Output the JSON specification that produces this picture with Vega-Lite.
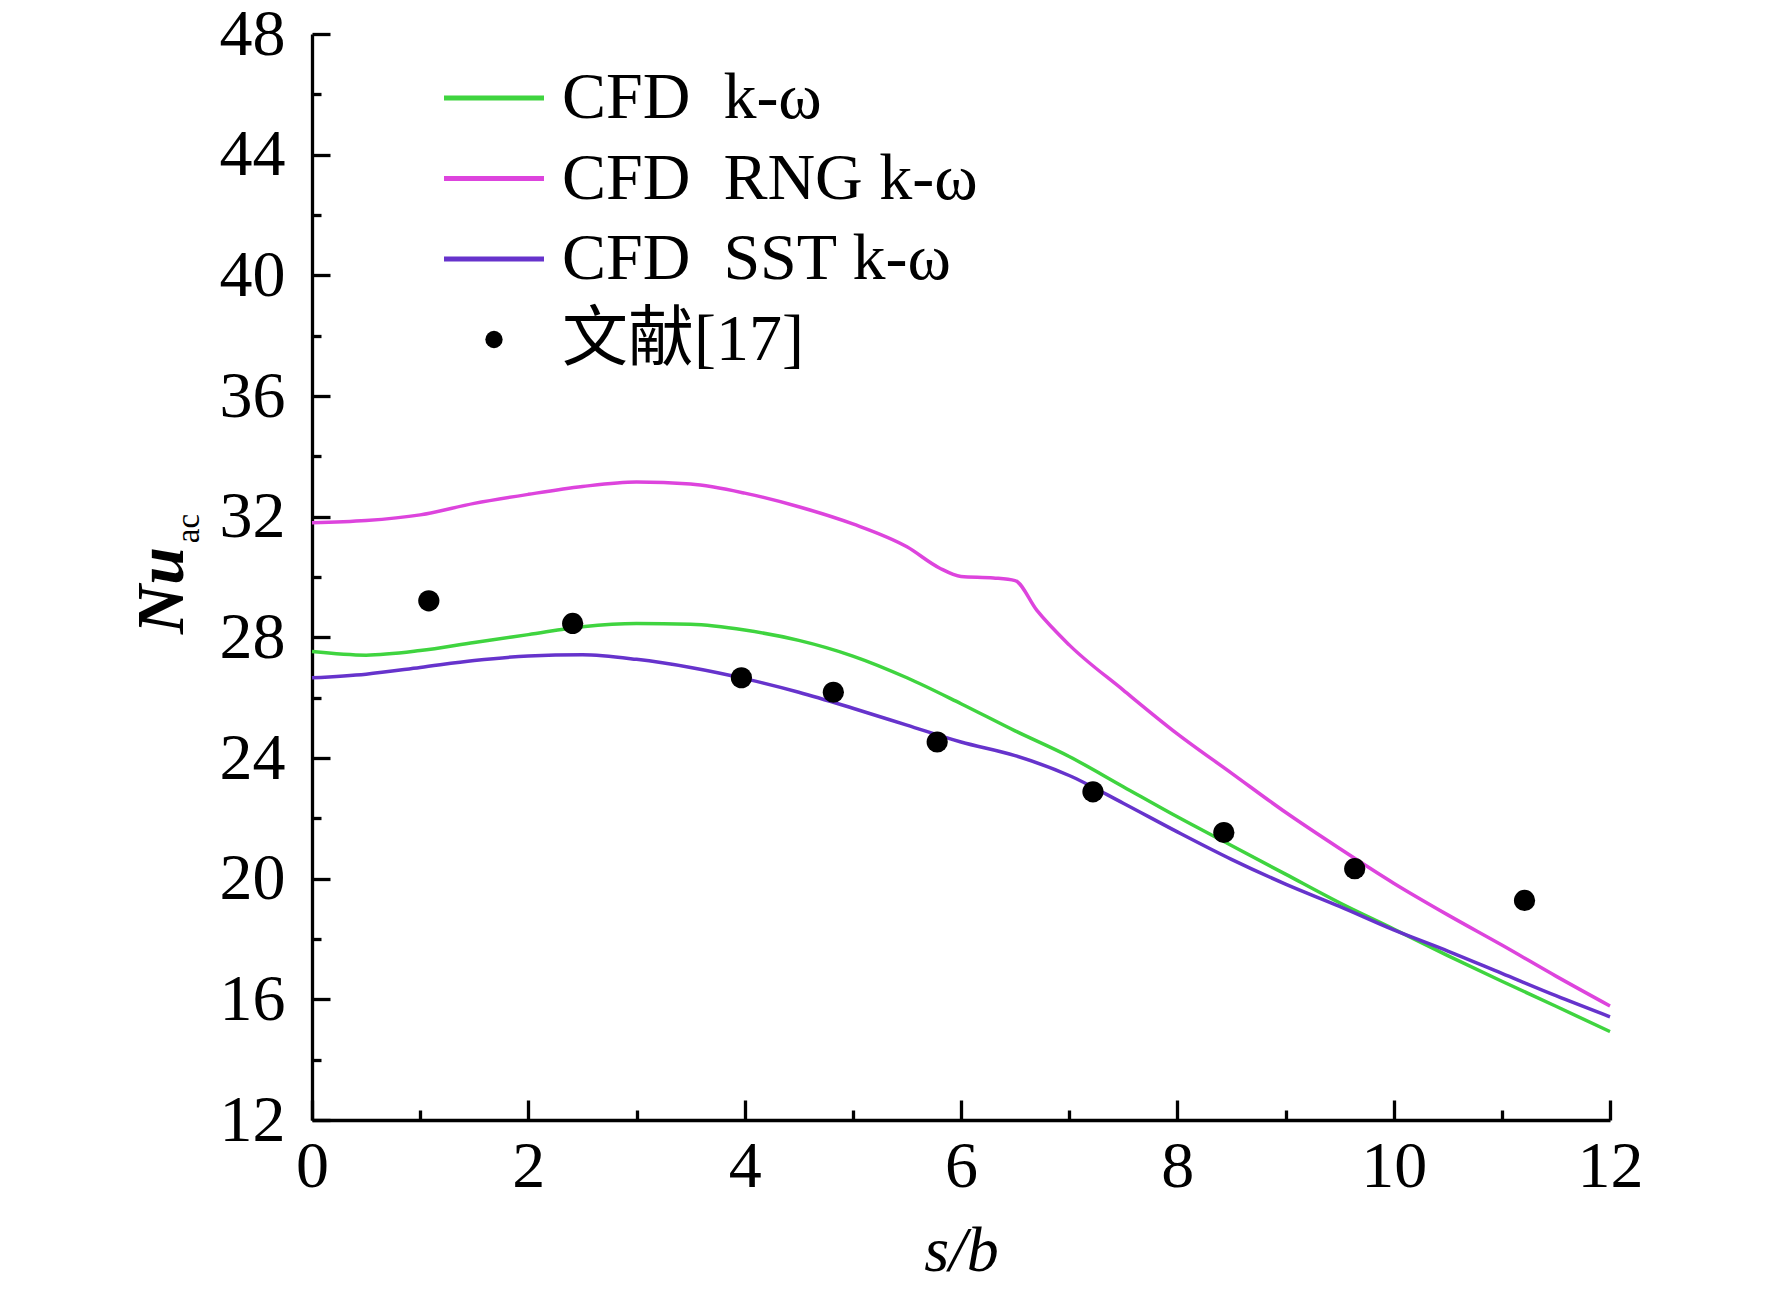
{
  "$schema": "https://vega.github.io/schema/vega-lite/v6.json",
  "description": "Nu_ac versus s/b: three CFD k-omega variants and the data of ref. [17].",
  "width": 1298,
  "height": 1086,
  "autosize": {"type": "none"},
  "padding": {"left": 312, "top": 34, "right": 162, "bottom": 171},
  "background": "white",
  "config": {
    "view": {"stroke": null},
    "font": "Liberation Serif",
    "axis": {
      "domainColor": "black",
      "domainWidth": 3.3,
      "tickColor": "black",
      "tickWidth": 3.3,
      "grid": false,
      "labelFont": "Liberation Serif",
      "labelFontSize": 66,
      "labelColor": "black",
      "titleFont": "Liberation Serif",
      "titleColor": "black"
    }
  },
  "datasets": {
    "cfd": [
      {"model": "CFD\u00a0\u00a0k-ω", "sb": 0, "nu": 27.53},
      {"model": "CFD\u00a0\u00a0k-ω", "sb": 0.5, "nu": 27.41},
      {"model": "CFD\u00a0\u00a0k-ω", "sb": 1, "nu": 27.56},
      {"model": "CFD\u00a0\u00a0k-ω", "sb": 1.5, "nu": 27.83},
      {"model": "CFD\u00a0\u00a0k-ω", "sb": 2, "nu": 28.09},
      {"model": "CFD\u00a0\u00a0k-ω", "sb": 2.5, "nu": 28.35},
      {"model": "CFD\u00a0\u00a0k-ω", "sb": 3, "nu": 28.46},
      {"model": "CFD\u00a0\u00a0k-ω", "sb": 3.5, "nu": 28.43},
      {"model": "CFD\u00a0\u00a0k-ω", "sb": 4, "nu": 28.24},
      {"model": "CFD\u00a0\u00a0k-ω", "sb": 4.5, "nu": 27.9},
      {"model": "CFD\u00a0\u00a0k-ω", "sb": 5, "nu": 27.38},
      {"model": "CFD\u00a0\u00a0k-ω", "sb": 5.5, "nu": 26.66},
      {"model": "CFD\u00a0\u00a0k-ω", "sb": 6, "nu": 25.8},
      {"model": "CFD\u00a0\u00a0k-ω", "sb": 6.5, "nu": 24.9},
      {"model": "CFD\u00a0\u00a0k-ω", "sb": 7, "nu": 24.05},
      {"model": "CFD\u00a0\u00a0k-ω", "sb": 7.5, "nu": 23.05},
      {"model": "CFD\u00a0\u00a0k-ω", "sb": 8, "nu": 22.05},
      {"model": "CFD\u00a0\u00a0k-ω", "sb": 8.5, "nu": 21.1},
      {"model": "CFD\u00a0\u00a0k-ω", "sb": 9, "nu": 20.15},
      {"model": "CFD\u00a0\u00a0k-ω", "sb": 9.5, "nu": 19.2},
      {"model": "CFD\u00a0\u00a0k-ω", "sb": 10, "nu": 18.33},
      {"model": "CFD\u00a0\u00a0k-ω", "sb": 10.5, "nu": 17.45},
      {"model": "CFD\u00a0\u00a0k-ω", "sb": 11, "nu": 16.6},
      {"model": "CFD\u00a0\u00a0k-ω", "sb": 11.5, "nu": 15.77},
      {"model": "CFD\u00a0\u00a0k-ω", "sb": 12, "nu": 14.93},
      {"model": "CFD\u00a0\u00a0RNG k-ω", "sb": 0, "nu": 31.8},
      {"model": "CFD\u00a0\u00a0RNG k-ω", "sb": 0.5, "nu": 31.87},
      {"model": "CFD\u00a0\u00a0RNG k-ω", "sb": 1, "nu": 32.06},
      {"model": "CFD\u00a0\u00a0RNG k-ω", "sb": 1.5, "nu": 32.44},
      {"model": "CFD\u00a0\u00a0RNG k-ω", "sb": 2, "nu": 32.74},
      {"model": "CFD\u00a0\u00a0RNG k-ω", "sb": 2.5, "nu": 33.0},
      {"model": "CFD\u00a0\u00a0RNG k-ω", "sb": 3, "nu": 33.15},
      {"model": "CFD\u00a0\u00a0RNG k-ω", "sb": 3.5, "nu": 33.08},
      {"model": "CFD\u00a0\u00a0RNG k-ω", "sb": 4, "nu": 32.78},
      {"model": "CFD\u00a0\u00a0RNG k-ω", "sb": 4.5, "nu": 32.33},
      {"model": "CFD\u00a0\u00a0RNG k-ω", "sb": 5, "nu": 31.76},
      {"model": "CFD\u00a0\u00a0RNG k-ω", "sb": 5.5, "nu": 31.0},
      {"model": "CFD\u00a0\u00a0RNG k-ω", "sb": 5.8, "nu": 30.3},
      {"model": "CFD\u00a0\u00a0RNG k-ω", "sb": 6, "nu": 30.02},
      {"model": "CFD\u00a0\u00a0RNG k-ω", "sb": 6.3, "nu": 29.97},
      {"model": "CFD\u00a0\u00a0RNG k-ω", "sb": 6.5, "nu": 29.88},
      {"model": "CFD\u00a0\u00a0RNG k-ω", "sb": 6.7, "nu": 28.9},
      {"model": "CFD\u00a0\u00a0RNG k-ω", "sb": 7, "nu": 27.75},
      {"model": "CFD\u00a0\u00a0RNG k-ω", "sb": 7.5, "nu": 26.25},
      {"model": "CFD\u00a0\u00a0RNG k-ω", "sb": 8, "nu": 24.8},
      {"model": "CFD\u00a0\u00a0RNG k-ω", "sb": 8.5, "nu": 23.5},
      {"model": "CFD\u00a0\u00a0RNG k-ω", "sb": 9, "nu": 22.2},
      {"model": "CFD\u00a0\u00a0RNG k-ω", "sb": 9.5, "nu": 21.0},
      {"model": "CFD\u00a0\u00a0RNG k-ω", "sb": 10, "nu": 19.85},
      {"model": "CFD\u00a0\u00a0RNG k-ω", "sb": 10.5, "nu": 18.8},
      {"model": "CFD\u00a0\u00a0RNG k-ω", "sb": 11, "nu": 17.8},
      {"model": "CFD\u00a0\u00a0RNG k-ω", "sb": 11.5, "nu": 16.77},
      {"model": "CFD\u00a0\u00a0RNG k-ω", "sb": 12, "nu": 15.78},
      {"model": "CFD\u00a0\u00a0SST k-ω", "sb": 0, "nu": 26.66},
      {"model": "CFD\u00a0\u00a0SST k-ω", "sb": 0.5, "nu": 26.78},
      {"model": "CFD\u00a0\u00a0SST k-ω", "sb": 1, "nu": 27.0},
      {"model": "CFD\u00a0\u00a0SST k-ω", "sb": 1.5, "nu": 27.23},
      {"model": "CFD\u00a0\u00a0SST k-ω", "sb": 2, "nu": 27.38},
      {"model": "CFD\u00a0\u00a0SST k-ω", "sb": 2.5, "nu": 27.42},
      {"model": "CFD\u00a0\u00a0SST k-ω", "sb": 3, "nu": 27.27},
      {"model": "CFD\u00a0\u00a0SST k-ω", "sb": 3.5, "nu": 27.0},
      {"model": "CFD\u00a0\u00a0SST k-ω", "sb": 4, "nu": 26.63},
      {"model": "CFD\u00a0\u00a0SST k-ω", "sb": 4.5, "nu": 26.18},
      {"model": "CFD\u00a0\u00a0SST k-ω", "sb": 5, "nu": 25.65},
      {"model": "CFD\u00a0\u00a0SST k-ω", "sb": 5.5, "nu": 25.09},
      {"model": "CFD\u00a0\u00a0SST k-ω", "sb": 6, "nu": 24.53},
      {"model": "CFD\u00a0\u00a0SST k-ω", "sb": 6.5, "nu": 24.08},
      {"model": "CFD\u00a0\u00a0SST k-ω", "sb": 7, "nu": 23.42},
      {"model": "CFD\u00a0\u00a0SST k-ω", "sb": 7.5, "nu": 22.5},
      {"model": "CFD\u00a0\u00a0SST k-ω", "sb": 8, "nu": 21.55},
      {"model": "CFD\u00a0\u00a0SST k-ω", "sb": 8.5, "nu": 20.64},
      {"model": "CFD\u00a0\u00a0SST k-ω", "sb": 9, "nu": 19.82},
      {"model": "CFD\u00a0\u00a0SST k-ω", "sb": 9.5, "nu": 19.08},
      {"model": "CFD\u00a0\u00a0SST k-ω", "sb": 10, "nu": 18.3},
      {"model": "CFD\u00a0\u00a0SST k-ω", "sb": 10.5, "nu": 17.6},
      {"model": "CFD\u00a0\u00a0SST k-ω", "sb": 11, "nu": 16.86},
      {"model": "CFD\u00a0\u00a0SST k-ω", "sb": 11.5, "nu": 16.12},
      {"model": "CFD\u00a0\u00a0SST k-ω", "sb": 12, "nu": 15.42}
    ],
    "ref": [
      {"model": "文献[17]", "sb": 1.08, "nu": 29.21},
      {"model": "文献[17]", "sb": 2.41, "nu": 28.46},
      {"model": "文献[17]", "sb": 3.97, "nu": 26.66},
      {"model": "文献[17]", "sb": 4.82, "nu": 26.18},
      {"model": "文献[17]", "sb": 5.78, "nu": 24.53},
      {"model": "文献[17]", "sb": 7.22, "nu": 22.88},
      {"model": "文献[17]", "sb": 8.43, "nu": 21.53},
      {"model": "文献[17]", "sb": 9.64, "nu": 20.33},
      {"model": "文献[17]", "sb": 11.21, "nu": 19.28}
    ]
  },
  "layer": [
    {
      "data": {"name": "cfd"},
      "mark": {"type": "line", "strokeWidth": 3.5, "interpolate": "monotone"},
      "encoding": {
        "x": {
          "field": "sb",
          "type": "quantitative",
          "scale": {"domain": [0, 12], "nice": false, "zero": false},
          "axis": {
            "title": "s/b",
            "titleFontSize": 64,
            "titleFontStyle": "italic",
            "titleFontWeight": "normal",
            "titleBaseline": "alphabetic",
            "titleY": 150,
            "values": [0, 1, 2, 3, 4, 5, 6, 7, 8, 9, 10, 11, 12],
            "format": "d",
            "labelExpr": "datum.value % 2 === 0 ? datum.label : ''",
            "tickSize": {"condition": {"test": "datum.value % 2 === 0", "value": -20}, "value": -10},
            "labelPadding": 34,
            "labelFlush": false,
            "labelOverlap": false
          }
        },
        "y": {
          "field": "nu",
          "type": "quantitative",
          "scale": {"domain": [12, 48], "nice": false, "zero": false},
          "axis": {
            "title": "Nu",
            "titleFontSize": 68,
            "titleFontStyle": "italic",
            "titleFontWeight": "bold",
            "titleAngle": 270,
            "titleAlign": "center",
            "titleBaseline": "alphabetic",
            "titleX": -130,
            "titleY": 556,
            "values": [12, 14, 16, 18, 20, 22, 24, 26, 28, 30, 32, 34, 36, 38, 40, 42, 44, 46, 48],
            "format": "d",
            "labelExpr": "datum.value % 4 === 0 ? datum.label : ''",
            "tickSize": {"condition": {"test": "datum.value % 4 === 0", "value": -18}, "value": -9},
            "labelPadding": 45,
            "labelFlush": false,
            "labelOverlap": false
          }
        },
        "color": {
          "field": "model",
          "type": "nominal",
          "scale": {
            "domain": ["CFD\u00a0\u00a0k-ω", "CFD\u00a0\u00a0RNG k-ω", "CFD\u00a0\u00a0SST k-ω", "文献[17]"],
            "range": ["#3fd43f", "#dd44dd", "#6633cc", "black"]
          },
          "legend": {
            "title": null,
            "orient": "none",
            "legendX": 149,
            "legendY": 31,
            "padding": 0,
            "labelFont": "Liberation Serif, Noto Sans CJK SC",
            "labelFontSize": 66,
            "labelColor": "black",
            "labelLimit": 0,
            "labelOffset": 35,
            "rowPadding": 14.5,
            "symbolType": "stroke",
            "symbolSize": 10000,
            "symbolStrokeWidth": 5,
            "encode": {
              "symbols": {
                "update": {
                  "shape": {"signal": "datum.value === '文献[17]' ? 'circle' : 'stroke'"},
                  "size": {"signal": "datum.value === '文献[17]' ? 300 : 10000"},
                  "strokeWidth": {"signal": "datum.value === '文献[17]' ? 0 : 5"},
                  "fill": {"signal": "scale('color', datum.value)"},
                  "stroke": {"signal": "scale('color', datum.value)"},
                  "opacity": {"value": 1}
                }
              }
            }
          }
        }
      }
    },
    {
      "data": {"name": "ref"},
      "mark": {"type": "point", "filled": true, "size": 450, "opacity": 1, "shape": "circle"},
      "encoding": {
        "x": {"field": "sb", "type": "quantitative"},
        "y": {
          "field": "nu",
          "type": "quantitative",
          "axis": {
            "orient": "left",
            "title": "ac",
            "titleFontSize": 33,
            "titleFontWeight": "normal",
            "titleAngle": 270,
            "titleAlign": "center",
            "titleBaseline": "alphabetic",
            "titleX": -114,
            "titleY": 494,
            "labels": false,
            "ticks": false,
            "domain": false
          }
        },
        "color": {"field": "model", "type": "nominal"}
      }
    }
  ],
  "resolve": {"axis": {"y": "independent"}}
}
